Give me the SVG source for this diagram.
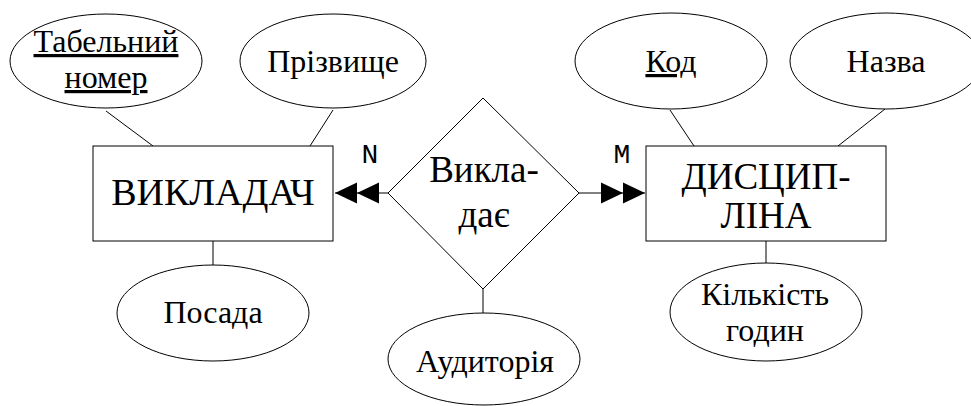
<svg xmlns="http://www.w3.org/2000/svg" width="971" height="406" viewBox="0 0 971 406">
<defs>
<style>
.shape{fill:#fff;stroke:#000;stroke-width:1}
.ln{fill:none;stroke:#000;stroke-width:1}
.t{font-family:"Liberation Serif","Times New Roman","DejaVu Serif",serif;fill:#000;text-anchor:middle}
.attr{font-size:32px}
.ent{font-size:38px}
.ent2{font-size:37px}
.rel{font-size:37px}
.card{font-family:"Liberation Mono","Courier New",monospace;font-size:28px;fill:#000;text-anchor:middle}
.key{text-decoration:underline}
</style>
<marker id="dbl" viewBox="0 -11 44 22" markerWidth="44" markerHeight="22" markerUnits="userSpaceOnUse" refX="44" refY="0" orient="auto">
<path d="M0,-10.5 L22,0 L0,10.5 Z M22,-10.5 L44,0 L22,10.5 Z" fill="#000"/>
</marker>
</defs>
<rect width="971" height="406" fill="#fff"/>
<g id="connectors">
<line class="ln" x1="106" y1="111" x2="153" y2="146"/>
<line class="ln" x1="333" y1="110" x2="310" y2="146"/>
<line class="ln" x1="213" y1="241" x2="213" y2="265"/>
<line class="ln" x1="670" y1="110" x2="694" y2="146"/>
<line class="ln" x1="885" y1="109" x2="838" y2="146"/>
<line class="ln" x1="766" y1="241" x2="766" y2="263"/>
<line class="ln" x1="483" y1="289" x2="483" y2="313"/>
<line class="ln" x1="388" y1="193" x2="335" y2="193" marker-end="url(#dbl)"/>
<line class="ln" x1="579" y1="193" x2="645" y2="193" marker-end="url(#dbl)"/>
<text class="card" x="370" y="163">N</text>
<text class="card" x="622" y="163">M</text>
</g>
<g id="attr-tabnum">
<ellipse class="shape" cx="106" cy="61" rx="96" ry="47"/>
<text class="t attr key" x="106" y="52">Табельний</text>
<text class="t attr key" x="106" y="88">номер</text>
</g>
<g id="attr-surname">
<ellipse class="shape" cx="333" cy="61" rx="93" ry="47"/>
<text class="t attr" x="333" y="72">Прізвище</text>
</g>
<g id="entity-teacher">
<rect class="shape" x="93" y="146" width="240" height="95"/>
<text class="t ent" x="213" y="205">ВИКЛАДАЧ</text>
</g>
<g id="attr-position">
<ellipse class="shape" cx="213" cy="313" rx="96" ry="48"/>
<text class="t attr" x="213" y="323">Посада</text>
</g>
<g id="rel-teaches">
<polygon class="shape" points="483,98 579,193 483,289 388,193"/>
<text class="t rel" x="484" y="182">Викла-</text>
<text class="t rel" x="484" y="227">дає</text>
</g>
<g id="attr-room">
<ellipse class="shape" cx="484" cy="359" rx="96" ry="46"/>
<text class="t attr" x="485" y="372">Аудиторія</text>
</g>
<g id="attr-code">
<ellipse class="shape" cx="671" cy="61" rx="96" ry="48"/>
<text class="t attr key" x="671" y="72">Код</text>
</g>
<g id="attr-name">
<ellipse class="shape" cx="886" cy="61" rx="96" ry="48"/>
<text class="t attr" x="886" y="72">Назва</text>
</g>
<g id="entity-discipline">
<rect class="shape" x="646" y="146" width="240" height="95"/>
<text class="t ent2" x="766" y="189">ДИСЦИП-</text>
<text class="t ent2" x="766" y="228">ЛІНА</text>
</g>
<g id="attr-hours">
<ellipse class="shape" cx="766" cy="312" rx="96" ry="49"/>
<text class="t attr" x="765" y="305">Кількість</text>
<text class="t attr" x="765" y="341">годин</text>
</g>
</svg>
